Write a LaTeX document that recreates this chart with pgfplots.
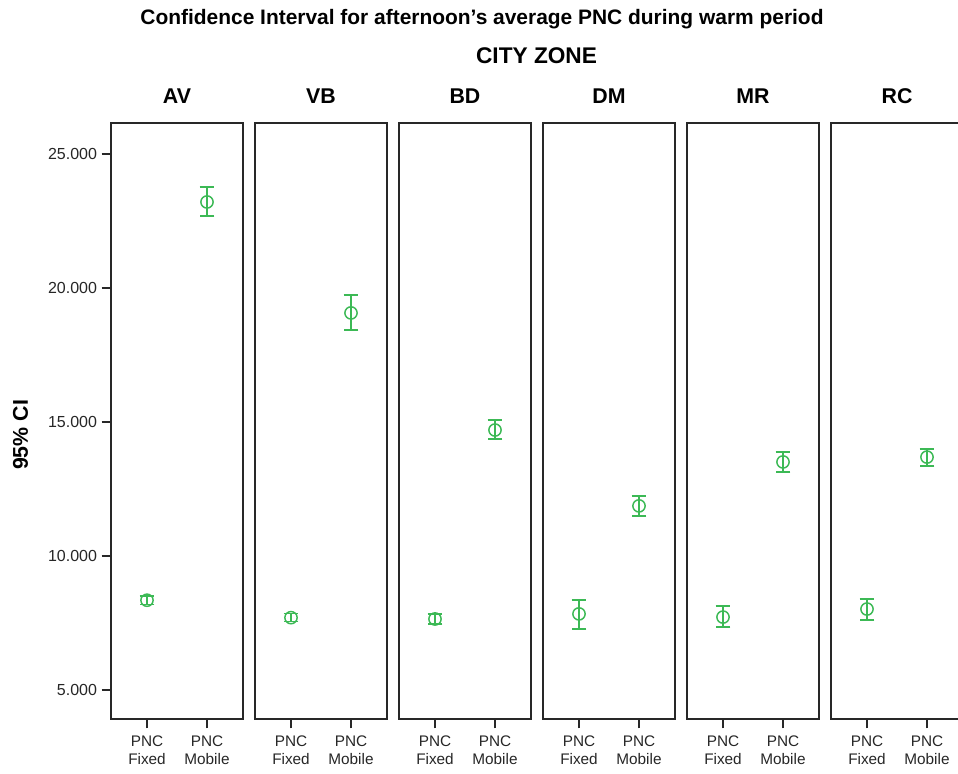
\documentclass[border=0pt]{standalone}
\usepackage{pgfplots}
\pgfplotsset{compat=1.18}
\usepackage{fontspec}
\setmainfont{Liberation Sans}
\definecolor{cigreen}{RGB}{60,185,85}
\definecolor{frame}{RGB}{40,40,40}
\pgfplotsset{
  panel/.style={
    anchor=north west,
    scale only axis,
    width=99pt, height=447pt,
    xmin=-0.6, xmax=1.6,
    ymin=3918, ymax=26157,
    axis line style={frame, line width=1pt},
    xtick={0,1},
    xticklabels={{PNC\\Fixed},{PNC\\Mobile}},
    x tick label style={align=center, font=\fontsize{11.5}{13.5}\selectfont, text=black!85, yshift=-2pt},
    tick align=outside,
    major tick length=7pt,
    tick style={frame, line width=1pt},
    xtick pos=bottom,
    ytick=\empty,
    clip=false,
    scaled y ticks=false,
    title style={at={(0.5,1)}, anchor=base, yshift=8.25pt, font=\bfseries\fontsize{16}{18}\selectfont},
    /pgf/number format/assume math mode=true,
  },
  ciplot/.style={
    color=cigreen, line width=1.1pt, mark=o, mark size=4.6pt, only marks,
    error bars/.cd, y dir=both, y explicit,
    error bar style={line width=1.1pt, color=cigreen},
    error mark options={rotate=90, mark size=5.5pt, line width=1.1pt, color=cigreen},
  },
}
\begin{document}
\begin{tikzpicture}
\useasboundingbox (0,0) rectangle (718.5pt,580.5pt);
\node[font=\bfseries\fontsize{15.7}{17}\selectfont, anchor=base] at (361.5pt,561.75pt) {Confidence Interval for afternoon's average PNC during warm period};
\node[font=\bfseries\fontsize{17}{19}\selectfont, anchor=base] at (402.4pt,532.5pt) {CITY ZONE};
\node[font=\bfseries\fontsize{16}{18}\selectfont, rotate=90] at (15.4pt,254.25pt) {95\% CI};

\begin{axis}[panel, at={(83.25pt,488.25pt)}, title={AV},
  ytick={5000,10000,15000,20000,25000},
  yticklabels={5.000,10.000,15.000,20.000,25.000},
  ytick pos=left,
  y tick label style={font=\fontsize{12}{13}\selectfont, text=black!85}]
\addplot[ciplot] coordinates {(0,8350) += (0,150) -= (0,150) (1,23210) += (0,560) -= (0,520)};
\end{axis}

\begin{axis}[panel, at={(191.25pt,488.25pt)}, title={VB}]
\addplot[ciplot] coordinates {(0,7700) += (0,150) -= (0,150) (1,19070) += (0,670) -= (0,640)};
\end{axis}

\begin{axis}[panel, at={(299.25pt,488.25pt)}, title={BD}]
\addplot[ciplot] coordinates {(0,7650) += (0,185) -= (0,185) (1,14700) += (0,375) -= (0,335)};
\end{axis}

\begin{axis}[panel, at={(407.25pt,488.25pt)}, title={DM}]
\addplot[ciplot] coordinates {(0,7840) += (0,520) -= (0,560) (1,11870) += (0,370) -= (0,375)};
\end{axis}

\begin{axis}[panel, at={(515.25pt,488.25pt)}, title={MR}]
\addplot[ciplot] coordinates {(0,7720) += (0,410) -= (0,370) (1,13510) += (0,370) -= (0,375)};
\end{axis}

\begin{axis}[panel, at={(623.25pt,488.25pt)}, title={RC}]
\addplot[ciplot] coordinates {(0,8020) += (0,375) -= (0,410) (1,13690) += (0,300) -= (0,335)};
\end{axis}
\end{tikzpicture}
\end{document}
